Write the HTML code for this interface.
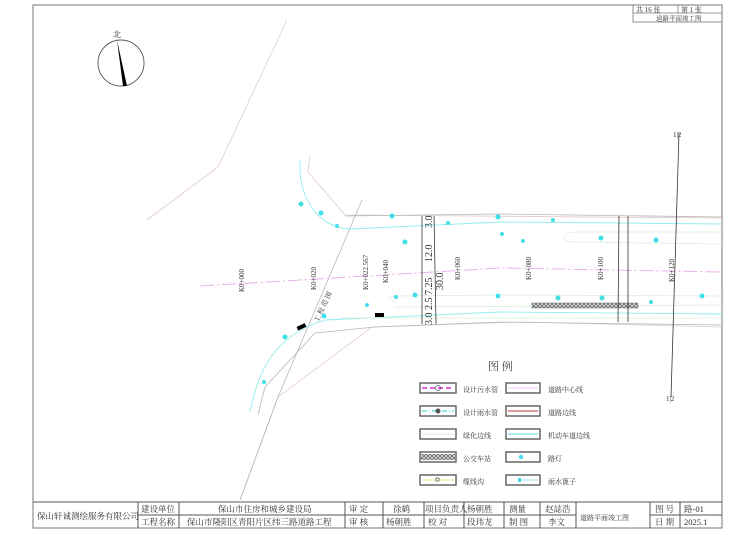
<!DOCTYPE html>
<html><head><meta charset="utf-8"><style>
html,body{margin:0;padding:0;background:#fff;}
svg{display:block;font-family:"Liberation Serif","Noto Serif CJK SC","Noto Sans CJK SC",serif;}
</style></head><body>
<svg width="756" height="535" viewBox="0 0 756 535" xmlns="http://www.w3.org/2000/svg">
<defs>
<pattern id="h" width="4" height="4" patternUnits="userSpaceOnUse">
<rect width="4" height="4" fill="#ddd"/><path d="M0,4 L4,0 M0,0 L4,4" stroke="#555" stroke-width="0.7"/>
</pattern>
</defs>
<rect x="0" y="0" width="756" height="535" fill="#fff"/>
<rect x="33" y="5" width="689" height="523" fill="none" stroke="#777" stroke-width="1"/>
<g stroke="#777" fill="none" stroke-width="0.8">
<rect x="633" y="5" width="89" height="17"/>
<line x1="633" y1="13" x2="722" y2="13"/>
<line x1="678" y1="5" x2="678" y2="13"/>
</g>
<g font-size="7" fill="#333">
<text x="636" y="12">共  16  张</text><text x="681" y="12">第  1  张</text>
<text x="656" y="20.5" font-size="6.5">道路平面竣工图</text>
</g>
<circle cx="121" cy="63" r="23" fill="none" stroke="#555" stroke-width="0.9"/>
<polygon points="117,40 123,86 127,86" fill="#000"/>
<text x="113" y="37" font-size="8" fill="#333">北</text>
<g fill="none" stroke="#e2caca" stroke-width="0.8">
<polyline points="287,20 218,167 147,220"/>
<polyline points="240,500 278,397 372,327 520,322 722,327"/>
<polyline points="310,155 308,172 345,215 722,218"/>
</g>
<g fill="none" stroke="#b5b5b5" stroke-width="0.8">
<polyline points="345,216 500,214 722,217"/>
<polyline points="258,415 265,387 315,333 375,327 500,322 722,325"/>
<line x1="362" y1="200" x2="278" y2="397"/>
<line x1="278" y1="397" x2="240" y2="500"/>
</g>
<g fill="none" stroke="#8eecee" stroke-width="0.9">
<path d="M300,160 C298,200 320,228 350,229 L500,222 L722,224"/>
<path d="M250,412 C258,370 275,335 325,320 L500,312 L722,314"/>
</g>
<g fill="none" stroke="#d8eed8" stroke-width="0.8">
<path d="M575,232 C560,232 560,242 575,242 L722,244"/>
<path d="M575,232 L722,232"/>
<path d="M395,302 C385,298 388,296 395,296 L500,295 L722,296"/>
<path d="M395,307 L722,305"/>
<path d="M340,318 L722,318"/>
</g>
<polyline points="200,286 500,268 722,272" fill="none" stroke="#eab0ea" stroke-width="1" stroke-dasharray="14,3,2,3"/>
<rect x="532" y="303" width="106" height="5" fill="url(#h)" stroke="#555" stroke-width="0.4"/>
<g stroke="#333" stroke-width="0.8">
<line x1="422" y1="216" x2="422" y2="324"/>
<line x1="434" y1="216" x2="436" y2="324"/>
<line x1="619" y1="216" x2="618" y2="322"/>
<line x1="628" y1="216" x2="628" y2="322"/>
<line x1="679" y1="133" x2="671" y2="397"/>
</g>
<g font-size="7" fill="#333">
<text x="673" y="137">1|2</text><text x="666" y="401">1|2</text>
</g>
<g font-size="10" fill="#333">
<text transform="translate(432,228) rotate(-90)">3.0</text>
<text transform="translate(432,262) rotate(-90)">12.0</text>
<text transform="translate(443,290) rotate(-90)">30.0</text>
<text transform="translate(432,325) rotate(-90)">3.0 2.5 7.25</text>
</g>
<g font-size="7" fill="#333">
<text transform="translate(244,292) rotate(-90)">K0+000</text>
<text transform="translate(316,290) rotate(-90)">K0+020</text>
<text transform="translate(368,290) rotate(-90)">K0+022.567</text>
<text transform="translate(388,283) rotate(-90)">K0+040</text>
<text transform="translate(460,280) rotate(-90)">K0+060</text>
<text transform="translate(531,280) rotate(-90)">K0+080</text>
<text transform="translate(603,280) rotate(-90)">K0+100</text>
<text transform="translate(674,282) rotate(-90)">K0+120</text>
<text transform="translate(318,323) rotate(-65)">工 程 范 围</text>
</g>
<g fill="#40e0e6">
<circle cx="301" cy="204" r="2.5"/><circle cx="321" cy="213" r="2.5"/><circle cx="337" cy="226" r="2"/>
<circle cx="392" cy="216" r="2.5"/><circle cx="448" cy="223" r="2"/><circle cx="405" cy="242" r="2.5"/>
<circle cx="498" cy="217" r="2.5"/><circle cx="553" cy="220" r="2"/><circle cx="601" cy="238" r="2.5"/>
<circle cx="656" cy="240" r="2.5"/><circle cx="702" cy="296" r="2.5"/><circle cx="651" cy="302" r="2"/>
<circle cx="602" cy="298" r="2.5"/><circle cx="558" cy="298" r="2.5"/><circle cx="498" cy="296" r="2.5"/>
<circle cx="415" cy="295" r="2.5"/><circle cx="396" cy="297" r="2"/><circle cx="367" cy="305" r="2"/>
<circle cx="324" cy="316" r="2.5"/><circle cx="285" cy="337" r="2.5"/><circle cx="264" cy="382" r="2"/>
<circle cx="502" cy="234" r="2"/><circle cx="523" cy="241" r="2"/>
</g>
<rect x="375" y="313" width="9" height="4" fill="#000"/>
<rect x="297" y="325" width="9" height="4" fill="#000" transform="rotate(-25 301 327)"/>
<text x="488" y="370" font-size="11" fill="#444">图    例</text>
<g fill="none" stroke="#666" stroke-width="1.5">
<rect x="420" y="383" width="36" height="10"/><rect x="420" y="406" width="36" height="10"/>
<rect x="420" y="429" width="36" height="10"/><rect x="420" y="452" width="36" height="10"/>
<rect x="420" y="475" width="36" height="10"/>
<rect x="506" y="383" width="34" height="10"/><rect x="506" y="406" width="34" height="10"/>
<rect x="506" y="429" width="34" height="10"/><rect x="506" y="452" width="34" height="10"/>
<rect x="506" y="475" width="34" height="10"/>
</g>
<line x1="422" y1="388" x2="454" y2="388" stroke="#d000d0" stroke-width="1.2" stroke-dasharray="5,3"/>
<circle cx="438" cy="388" r="2.5" fill="none" stroke="#555" stroke-width="0.7"/>
<line x1="422" y1="411" x2="454" y2="411" stroke="#20d0d0" stroke-width="1" stroke-dasharray="5,2,1,2"/>
<circle cx="438" cy="411" r="2.5" fill="#555"/>
<line x1="422" y1="434" x2="454" y2="434" stroke="#d8ecd8" stroke-width="1"/>
<rect x="421" y="454" width="34" height="6" fill="url(#h)"/>
<line x1="422" y1="480" x2="454" y2="480" stroke="#e8e880" stroke-width="1"/>
<rect x="436" y="478" width="3" height="3" fill="#fff" stroke="#333" stroke-width="0.6"/>
<line x1="508" y1="388" x2="538" y2="388" stroke="#f0b8f0" stroke-width="0.8"/>
<line x1="508" y1="411" x2="538" y2="411" stroke="#c03030" stroke-width="1"/>
<line x1="508" y1="434" x2="538" y2="434" stroke="#70e0e8" stroke-width="1.2"/>
<circle cx="521" cy="457" r="2.2" fill="#40e0e6"/>
<line x1="520" y1="480" x2="538" y2="480" stroke="#70e0e8" stroke-width="0.8"/>
<rect x="518" y="478" width="3" height="4" fill="#40e0e6"/>
<g font-size="7" fill="#333">
<text x="463" y="392">设计污水管</text><text x="463" y="415">设计雨水管</text>
<text x="463" y="438">绿化边线</text><text x="463" y="461">公交车站</text>
<text x="463" y="484">缆线沟</text>
<text x="548" y="392">道路中心线</text><text x="548" y="415">道路边线</text>
<text x="548" y="438">机动车道边线</text><text x="548" y="461">路灯</text>
<text x="548" y="484">雨水篦子</text>
</g>
<g stroke="#555" fill="none" stroke-width="1">
<line x1="33" y1="502" x2="722" y2="502"/>
<line x1="138" y1="515" x2="576" y2="515"/>
<line x1="650" y1="515" x2="722" y2="515"/>
<line x1="138" y1="502" x2="138" y2="528"/><line x1="179" y1="502" x2="179" y2="528"/>
<line x1="345" y1="502" x2="345" y2="528"/><line x1="383" y1="502" x2="383" y2="528"/>
<line x1="424" y1="502" x2="424" y2="528"/><line x1="464" y1="502" x2="464" y2="528"/>
<line x1="504" y1="502" x2="504" y2="528"/><line x1="540" y1="502" x2="540" y2="528"/>
<line x1="576" y1="502" x2="576" y2="528"/><line x1="650" y1="502" x2="650" y2="528"/>
<line x1="680" y1="502" x2="680" y2="528"/>
</g>
<g font-size="8.5" fill="#333">
<text x="37" y="519">保山轩诚测绘服务有限公司</text>
<text x="141" y="512">建设单位</text><text x="141" y="525">工程名称</text>
<text x="218" y="512">保山市住房和城乡建设局</text>
<text x="187" y="525">保山市隆阳区青阳片区纬三路道路工程</text>
<text x="349" y="512">审  定</text><text x="349" y="525">审  核</text>
<text x="393" y="512">徐鹤</text><text x="386" y="525">杨朝胜</text>
<text x="425" y="512">项目负责人</text><text x="428" y="525">校  对</text>
<text x="467" y="512">杨朝胜</text><text x="467" y="525">段玮龙</text>
<text x="509" y="512">测量</text><text x="509" y="525">制  图</text>
<text x="545" y="512">赵誌浩</text><text x="548" y="525">李文</text>
<text x="580" y="520" font-size="7">道路平面竣工图</text>
<text x="655" y="512">图  号</text><text x="655" y="525">日  期</text>
<text x="684" y="512">路-01</text><text x="684" y="525">2025.1</text>
</g>
</svg>
</body></html>
